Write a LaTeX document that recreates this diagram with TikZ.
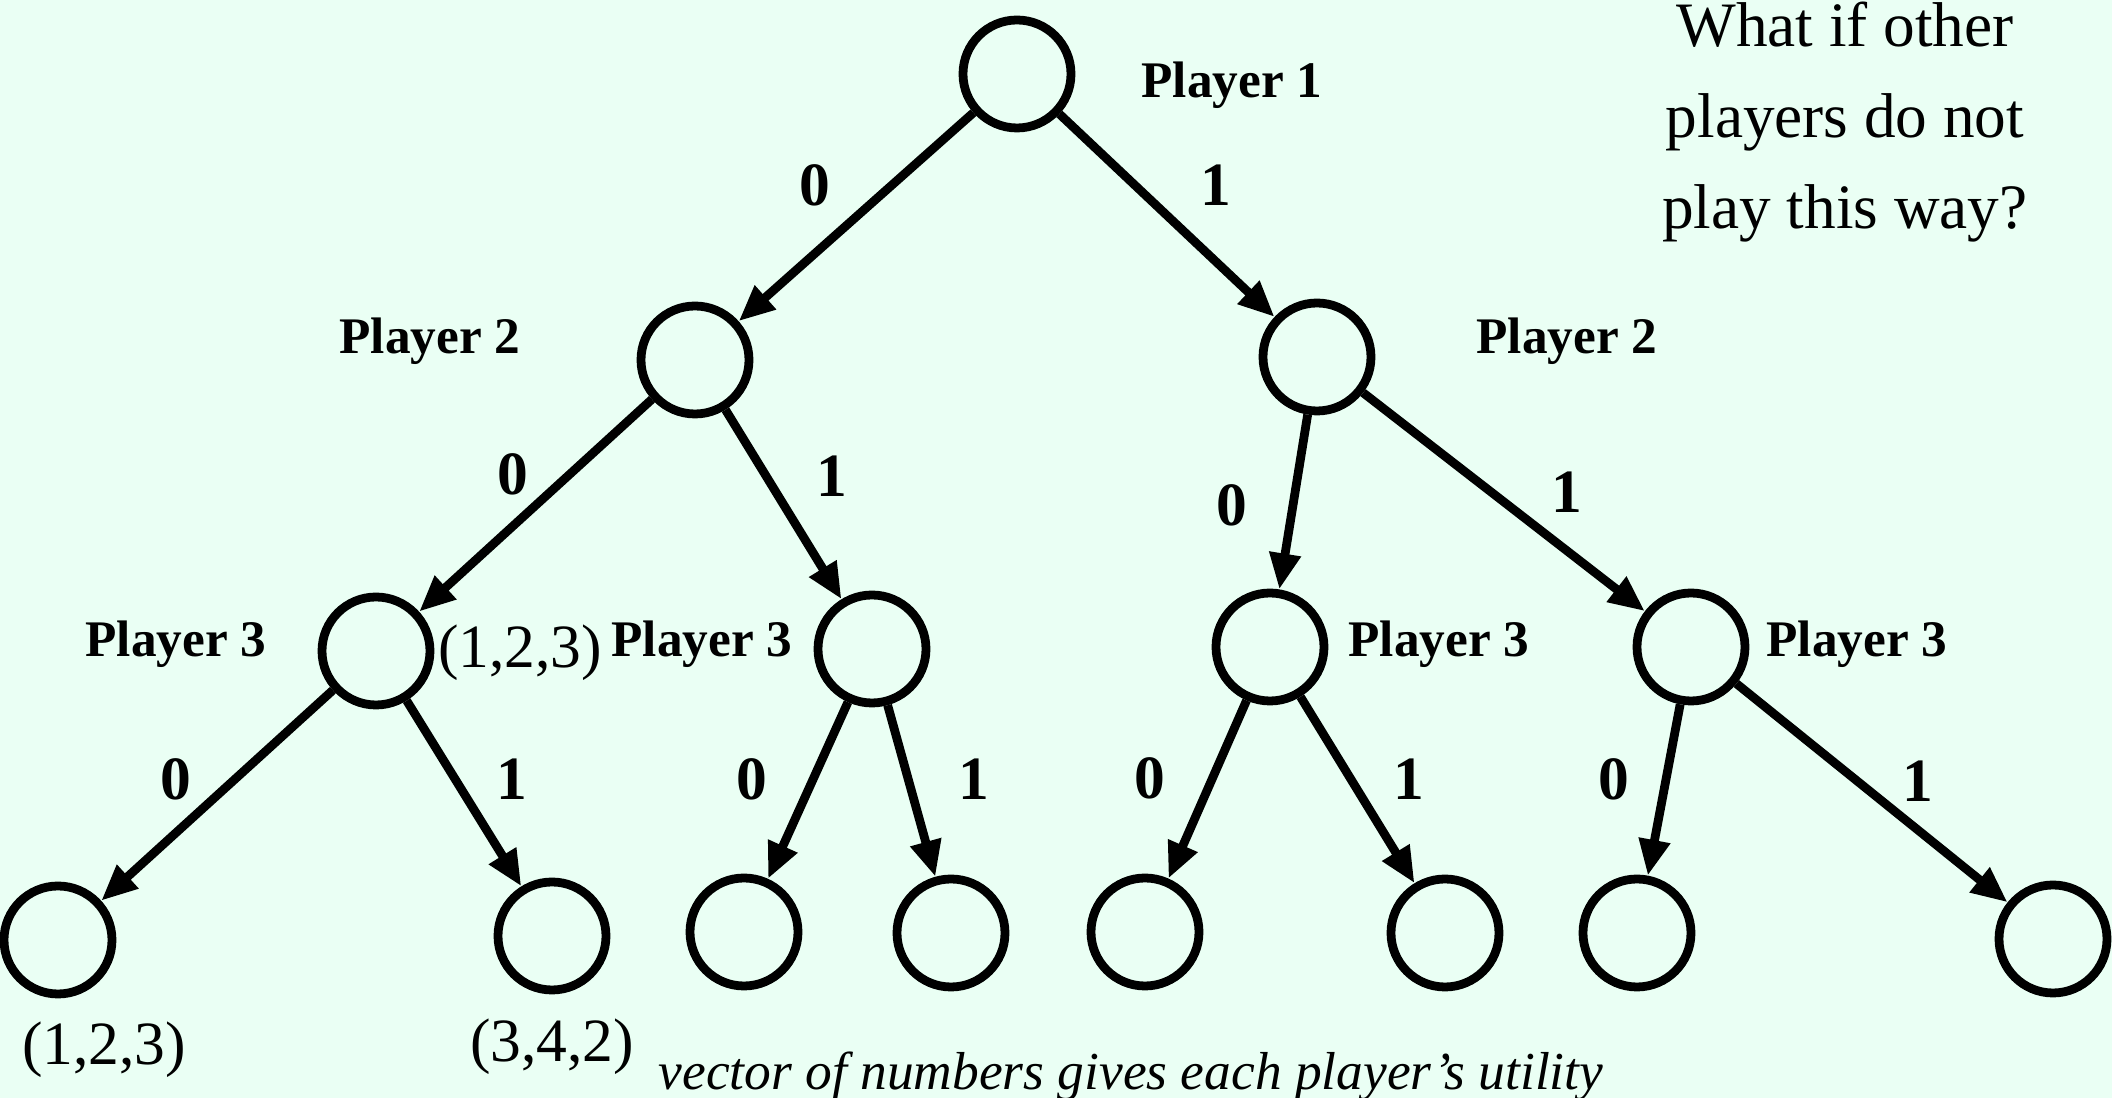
\documentclass[tikz,border=0pt]{standalone}
\usepackage{fontspec}
\setmainfont{Liberation Serif}
\usetikzlibrary{arrows.meta}
\definecolor{mintBg}{RGB}{234,255,244}

\begin{document}
\begin{tikzpicture}[>={Triangle[length=3.6mm,width=3mm]},
    connection/.style={draw=black,line width=2.5pt,->},
	choice/.style={circle,inner sep=0pt,minimum size=1.08cm,draw=black,line width=2.5pt},
	player/.style={font=\fontsize{14.6}{17}\selectfont\bfseries},
	move/.style={font=\fontsize{17.5}{20}\selectfont\bfseries},
	payoff/.style={font=\fontsize{17.5}{20}\selectfont},
]

	\fill[mintBg] (0,0) rectangle (21.12,-10.98);
	\useasboundingbox (0,0) rectangle (21.12,-10.98);

	% decision nodes
	\node[choice](root) at(10.17,-0.74){};
	\node[choice](p2a) at(6.95,-3.60){};
	\node[choice](p2b) at(13.17,-3.57){};
	\node[choice](p3a) at(3.76,-6.51){};
	\node[choice](p3b) at(8.72,-6.49){};
	\node[choice](p3c) at(12.70,-6.47){};
	\node[choice](p3d) at(16.91,-6.47){};

	% leaves
	\node[choice](t1) at(0.58,-9.40){};
	\node[choice](t2) at(5.52,-9.36){};
	\node[choice](t3) at(7.44,-9.32){};
	\node[choice](t4) at(9.51,-9.33){};
	\node[choice](t5) at(11.45,-9.32){};
	\node[choice](t6) at(14.45,-9.33){};
	\node[choice](t7) at(16.37,-9.33){};
	\node[choice](t8) at(20.53,-9.39){};

	% player labels
	\node[player](lp1) at(12.32,-0.85){Player 1};
	\node[player](lp2a) at(4.30,-3.41){Player 2};
	\node[player](lp2b) at(15.67,-3.41){Player 2};
	\node[player](lp3a) at(1.76,-6.44){Player 3};
	\node[player](lp3b) at(7.02,-6.44){Player 3};
	\node[player](lp3c) at(14.39,-6.44){Player 3};
	\node[player](lp3d) at(18.57,-6.44){Player 3};

	% utilities
	\node[payoff](u3a) at(5.20,-6.53){(1,2,3)};
	\node[payoff](u1) at(1.04,-10.50){(1,2,3)};
	\node[payoff](u2) at(5.52,-10.47){(3,4,2)};
	\node[font=\fontsize{15.2}{18}\selectfont\itshape](note) at(11.31,-10.76){vector of numbers gives each player’s utility};
	\node[font=\fontsize{18}{26}\selectfont,align=center](ask) at(18.45,-1.22){What if other\\players do not\\play this way?};

	\draw[connection](root)--node[move,xshift=-4.1mm,yshift=3.2mm]{0}(p2a);
	\draw[connection](root)--node[move,xshift=4.9mm,yshift=3.0mm]{1}(p2b);
	\draw[connection](p2a)--node[move,xshift=-2.3mm,yshift=3.1mm]{0}(p3a);
	\draw[connection](p2a)--node[move,xshift=4.8mm,yshift=2.8mm]{1}(p3b);
	\draw[connection](p2b)--node[move,xshift=-6.2mm,yshift=-0.3mm]{0}(p3c);
	\draw[connection](p2b)--node[move,xshift=6.3mm,yshift=1.0mm]{1}(p3d);
	\draw[connection](p3a)--node[move,xshift=-4.1mm,yshift=1.6mm]{0}(t1);
	\draw[connection](p3a)--node[move,xshift=4.8mm,yshift=1.4mm]{1}(t2);
	\draw[connection](p3b)--node[move,xshift=-5.6mm,yshift=1.1mm]{0}(t3);
	\draw[connection](p3b)--node[move,xshift=6.2mm,yshift=1.2mm]{1}(t4);
	\draw[connection](p3c)--node[move,xshift=-5.8mm,yshift=1.1mm]{0}(t5);
	\draw[connection](p3c)--node[move,xshift=5.1mm,yshift=1.1mm]{1}(t6);
	\draw[connection](p3d)--node[move,xshift=-5.0mm,yshift=1.1mm]{0}(t7);
	\draw[connection](p3d)--node[move,xshift=4.6mm,yshift=1.2mm]{1}(t8);

\end{tikzpicture}
\end{document}
